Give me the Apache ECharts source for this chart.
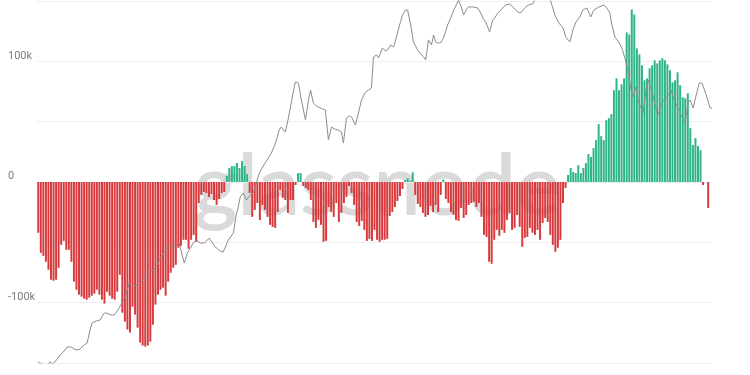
<!DOCTYPE html>
<html>
<head>
<meta charset="utf-8">
<script src="https://cdn.jsdelivr.net/npm/echarts@6/dist/echarts.min.js"></script>
<style>
html,body{margin:0;padding:0;background:#fff;}
#chart{width:750px;height:375px;}
</style>
</head>
<body>
<div id="chart"></div>
<script>
// Daily categories: 2020-09-29 .. 2021-06-20 (265 days)
const startDate = '2020-09-29';
const dayCount = 265;

// Net change per day (red < 0, green > 0)
const netChange = [
-42100,-58700,-61200,-66100,-72700,-81000,-81800,-81000,-71100,-52100,
-48800,-56200,-56200,-66100,-82600,-89300,-93400,-95000,-96700,-97500,
-95900,-94200,-92600,-89300,-93400,-97500,-100800,-90900,-94200,-96700,
-97500,-90900,-76900,-108300,-115700,-122300,-124800,-103300,-109900,-120700,
-133100,-135500,-136400,-135500,-132200,-118200,-101600,-93400,-89300,-87600,
-94200,-82600,-75200,-71100,-68600,-54500,-52900,-47900,-47900,-55400,
-47900,-43800,-49600,-17400,-10700,-8300,-9100,-12400,-9900,-14900,
-19000,-14000,-9100,-8300,5000,11600,13200,13200,15700,11600,
17400,13200,6600,-9100,-28900,-23100,-17400,-31400,-19000,-23100,
-28900,-35500,-37200,-38000,-24800,-6600,-13200,-14900,-25600,-14900,
-14900,-2500,7400,7400,-3300,-5000,-6600,-14900,-33100,-38000,
-31400,-35500,-49600,-48800,-20700,-24800,-28900,-17400,-33100,-25600,
-17400,-12400,-3300,-9100,-19000,-33100,-36400,-32200,-39700,-48800,
-47100,-48800,-39700,-47900,-49600,-47900,-47900,-47100,-28100,-24800,
-20700,-15700,-11600,-5800,1500,3000,1000,8000,-10700,-18200,
-20700,-25600,-28900,-27300,-19800,-24800,-19000,-24800,-10700,2000,
-14000,-17400,-24800,-27300,-31400,-32200,-21500,-29800,-27300,-19000,
-17400,-16500,-20700,-17400,-28900,-43800,-45500,-66100,-67800,-47900,
-39700,-44600,-39700,-42100,-31400,-25600,-39700,-38000,-27300,-37200,
-53700,-46300,-45500,-38000,-42100,-43800,-39700,-47900,-33900,-29800,
-33100,-43800,-52100,-57800,-54500,-47900,-17400,-5000,5800,11600,
8300,7400,14000,7400,11600,15700,23100,20700,28100,34700,
47900,38000,34700,51200,52900,56200,76000,85900,76000,81000,
85900,124000,122300,143000,138800,110700,105800,96700,84300,85900,
94200,96700,100800,98300,100800,102500,100800,97500,92600,82600,
84300,90900,80200,70200,69400,73500,44600,30600,36400,29800,
26400,-2500,null,-21500,null
];

// Price line (day number, price)
const priceDay = [
-0.1,1.45,3.4,4.6,5.8,7.4,8.9,10.5,11.3,12.9,14.0,15.2,16.4,18.0,19.2,20.3,21.1,22.7,24.3,25.8,
27.0,28.6,29.8,31.0,31.7,32.9,34.1,34.9,35.7,37.2,38.8,40.0,42.0,43.5,45.1,46.7,47.9,49.4,51.0,52.9,
54.1,55.3,56.5,57.3,58.5,59.3,60.8,62.0,63.6,65.2,67.1,68.7,69.9,71.4,72.6,74.6,76.6,77.7,78.5,79.3,
80.5,81.7,83.2,84.4,85.6,86.8,87.9,89.1,90.3,91.5,92.7,93.5,94.6,95.4,97.0,98.2,99.0,100.1,100.9,102.1,
103.3,104.1,104.9,106.1,106.9,108.0,109.2,110.0,111.6,112.7,113.9,115.1,116.3,117.8,119.0,119.8,121.0,122.2,123.0,124.5,
125.7,126.9,128.5,129.7,130.8,131.6,132.8,133.6,135.1,136.3,137.1,138.3,139.5,140.3,141.1,142.2,143.0,144.2,145.0,146.2,
147.3,148.9,150.1,151.3,152.1,153.2,154.4,155.2,156.0,156.8,157.9,159.1,160.7,161.9,163.1,163.9,165.0,166.2,167.0,168.2,
168.9,170.9,172.5,173.7,174.5,175.7,177.2,178.4,179.2,180.4,181.6,183.5,185.1,186.7,188.2,189.4,191.0,192.5,194.1,195.3,
197.3,199.2,200.8,202.0,202.8,204.4,206.0,207.1,208.7,209.9,211.1,212.6,213.8,215.4,216.9,218.1,220.1,222.1,223.2,224.4,
225.2,226.4,227.9,229.1,230.3,231.5,232.7,233.5,234.6,235.4,236.6,237.4,238.6,239.4,241.0,242.1,243.3,244.5,245.3,247.3,
248.4,249.6,251.5,252.7,253.9,255.1,255.9,257.1,258.3,259.5,260.6,261.8,262.6,263.7,264.5
];
const priceValue = [
10740,10640,10590,10740,10640,10890,11160,11370,11540,11540,11430,11370,11430,11650,11760,12510,12940,13070,13130,13570,
13570,13450,13450,13710,13770,14240,14650,15150,15670,15450,15520,15670,16130,16440,16680,17080,17660,18180,18620,18790,
18710,18980,17920,17240,18090,18350,18980,19250,18980,18980,19430,18890,18530,18260,18180,19250,19910,21700,22550,23650,
24110,23310,23880,24110,25290,26530,27170,27830,28500,29190,30190,31070,32590,33060,32280,34510,36370,39090,41000,40800,
37620,35860,34190,37620,39460,37080,36550,36370,36030,35860,31070,33060,32740,32590,32280,30620,34510,34840,34680,33370,
35350,37620,39090,39460,39840,46210,46660,45990,48240,47560,47790,48940,48470,50130,52080,54630,56500,57860,57860,53850,
49650,47790,46880,46210,45550,50130,48940,51340,49650,49410,49410,50610,53850,55690,57860,58980,60700,58420,56500,58140,
58700,58700,58420,57040,55690,54630,52080,55160,55690,57040,57860,59270,59550,58420,57320,57040,58420,59270,59550,61280,
63070,63670,61280,58420,56500,54370,53090,50850,49650,52580,54630,55960,57860,58420,55960,57860,58700,59270,58420,57040,
53850,50850,49650,48240,45990,43420,39460,38160,40030,37620,36200,35350,39460,41390,39090,36730,35010,36730,37440,38530,
39460,37620,35860,34680,33700,37080,37620,36200,38530,40800,40800,39090,37980,36200,36200
];

// Left axis ticks
const yMin = -150000, yMax = 150000, yStep = 50000;
const labelled = [100000, 0, -100000];

const categories = [];
(function(){
  const d0 = new Date(startDate + 'T00:00:00Z');
  for (let i = 0; i < dayCount; i++) {
    const d = new Date(d0.getTime() + i * 86400000);
    categories.push(d.toISOString().slice(0, 10));
  }
})();

const linePoints = priceDay.map((d, i) => [d, priceValue[i]]);

const chart = echarts.init(document.getElementById('chart'), null, {renderer: 'canvas'});
chart.setOption({
  animation: false,
  backgroundColor: '#ffffff',
  grid: {left: 37, right: 38, top: 1, bottom: 12},
  graphic: [{
    type: 'text',
    z: 0,
    style: {
      x: 377, y: 188,
      text: 'glassnode',
      align: 'center',
      verticalAlign: 'middle',
      font: '600 84px Lato, "Open Sans", sans-serif',
      fill: '#dadada'
    }
  }],
  xAxis: [
    {type: 'category', data: categories, boundaryGap: true, show: false},
    {type: 'value', min: -0.5, max: dayCount - 0.5, show: false}
  ],
  yAxis: [
    {
      type: 'value', min: yMin, max: yMax, interval: yStep,
      axisLine: {show: false}, axisTick: {show: false},
      splitLine: {show: true, lineStyle: {color: '#efefef', width: 1}},
      axisLabel: {
        align: 'left', margin: 29, verticalAlign: 'bottom',
        color: '#7c7c7c', fontSize: 11, fontFamily: 'Roboto, sans-serif',
        formatter: v => labelled.includes(v) ? (v === 0 ? '0' : (v / 1000) + 'k') : ''
      }
    },
    {type: 'log', min: 10690, max: 60400, show: false, splitLine: {show: false}}
  ],
  series: [
    {
      type: 'bar',
      data: netChange,
      barCategoryGap: '22%',
      itemStyle: {
        color: p => (p.value >= 0 ? '#2fb388' : '#d8393c')
      },
      z: 2
    },
    {
      type: 'line',
      xAxisIndex: 1,
      yAxisIndex: 1,
      data: linePoints,
      showSymbol: false,
      symbol: 'none',
      lineStyle: {color: '#8c8c8c', width: 1},
      z: 3
    }
  ]
});
</script>
</body>
</html>
